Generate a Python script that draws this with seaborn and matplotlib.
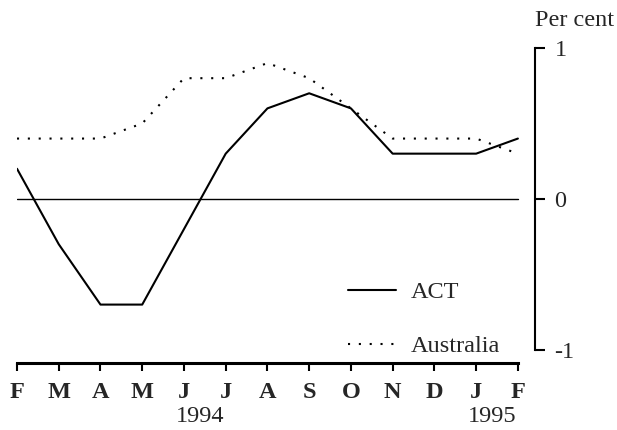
import matplotlib
matplotlib.use("Agg")
import matplotlib.pyplot as plt
import seaborn as sns
import pandas as pd

months = ["F", "M", "A", "M", "J", "J", "A", "S", "O", "N", "D", "J", "F"]
act = [0.2, -0.3, -0.7, -0.7, -0.2, 0.3, 0.6, 0.7, 0.6, 0.3, 0.3, 0.3, 0.4]
australia = [0.4, 0.4, 0.4, 0.5, 0.8, 0.8, 0.9, 0.8, 0.6, 0.4, 0.4, 0.4, 0.3]
years = ["1994", "1995"]
y_ticks = [1, 0, -1]

sns.set_theme(style="white")
plt.rcParams["font.family"] = ["Liberation Serif", "DejaVu Serif"]

FS = 17.5

idx = list(range(len(months)))
df = pd.DataFrame({"i": idx * 2,
                   "v": act + australia,
                   "s": ["ACT"] * len(idx) + ["Australia"] * len(idx)})

fig = plt.figure(figsize=(6.17, 4.30), dpi=100)
ax = fig.add_axes([17 / 617, 67 / 430, 518 / 617, 315 / 430])

sns.lineplot(data=df[df.s == "ACT"], x="i", y="v", ax=ax, color="black",
             linewidth=1.5, label="ACT")
sns.lineplot(data=df[df.s == "Australia"], x="i", y="v", ax=ax, color="black",
             linewidth=1.5, linestyle=(0, (1, 4.2)), label="Australia")
ax.axhline(0, xmin=0, xmax=12 / 12.41, color="black", linewidth=1.0)

ax.set_xlim(0, 12.41)
ax.set_ylim(-1.087, 1.0)

for s in ["left", "top"]:
    ax.spines[s].set_visible(False)
ax.spines["bottom"].set_bounds(0, 12)
ax.spines["bottom"].set_linewidth(2.2)
ax.spines["bottom"].set_color("black")
ax.spines["right"].set_bounds(-1, 1)
ax.spines["right"].set_linewidth(1.5)
ax.spines["right"].set_color("black")

ax.set_xticks(idx)
ax.set_xticklabels(months, fontsize=FS, fontweight="bold")
ax.tick_params(axis="x", direction="out", length=6, width=1.5, color="black",
               pad=7.5, bottom=True)
ax.yaxis.tick_right()
ax.set_yticks(y_ticks)
ax.set_yticklabels([str(t) for t in y_ticks], fontsize=FS)
ax.tick_params(axis="y", direction="out", length=7, width=1.5, color="black",
               pad=7, right=True, left=False)
ax.set_xlabel("")
ax.set_ylabel("")

fig.text(200 / 617, 1 - 417 / 430, years[0], fontsize=FS, ha="center", va="center")
fig.text(492 / 617, 1 - 417 / 430, years[1], fontsize=FS, ha="center", va="center")
fig.text(535 / 617, 1 - 20 / 430, "Per cent", fontsize=FS, ha="left", va="center")

leg = ax.legend(loc="lower left", bbox_to_anchor=(0.62, -0.013), frameon=False,
                fontsize=FS, handlelength=2.0, handletextpad=0.6, labelspacing=1.32,
                borderaxespad=0)

fig.savefig("out.png", dpi=100, facecolor="white")
